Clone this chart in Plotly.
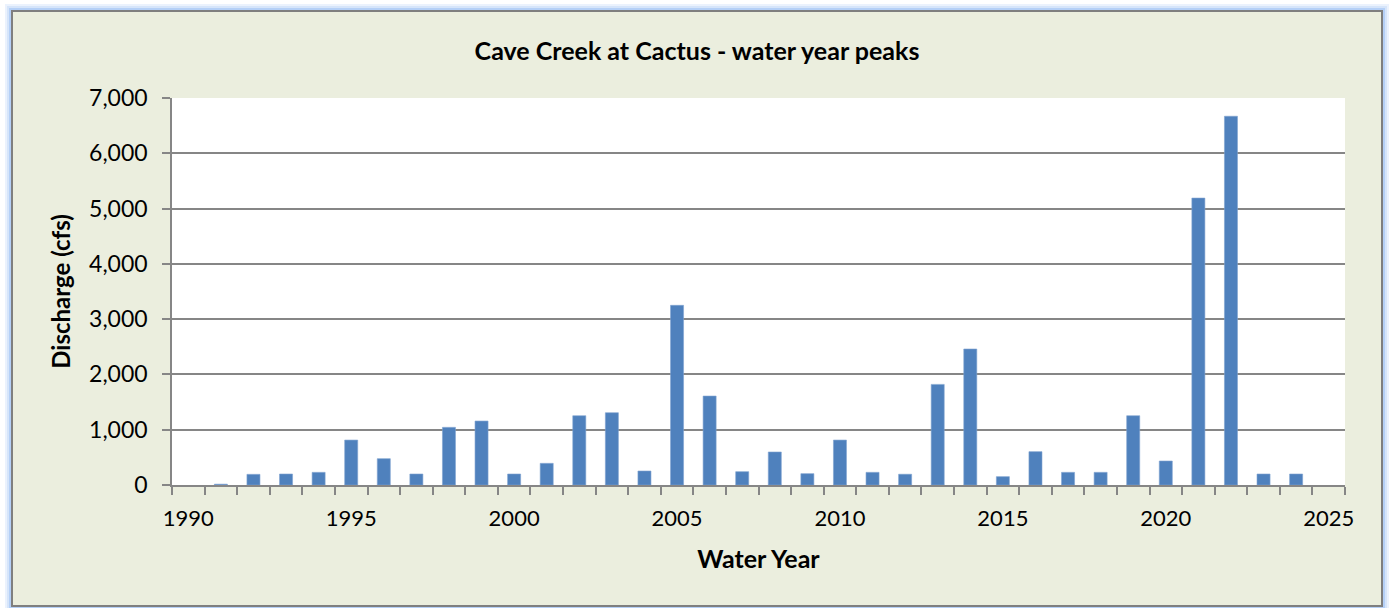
import plotly.graph_objects as go

# ---- data ----
years = list(range(1990, 2026))
peaks = [None, 15, 193, 199, 229, 813, 476, 199, 1043, 1157,
         199, 392, 1253, 1308, 253, 3250, 1609, 241, 597, 205,
         813, 229, 195, 1820, 2460, 151, 603, 229, 229, 1253,
         434, 5190, 6670, 199, 199, None]
label_years = [1990, 1995, 2000, 2005, 2010, 2015, 2020, 2025]
y_ticks = [0, 1000, 2000, 3000, 4000, 5000, 6000, 7000]
title_text = "Cave Creek at Cactus - water year peaks"
x_title = "Water Year"
y_title = "Discharge (cfs)"

W, H = 1389, 608
L, R, T, B = 172, 1345, 98, 485  # plot area in px

FONT = "Lato"

fig = go.Figure()
fig.add_trace(go.Bar(
    x=years, y=peaks, width=0.4,
    marker=dict(color="#4F81BD", line=dict(color="#7FA3D0", width=0.6)),
    hoverinfo="x+y",
))

def px2x(px):
    return (px - L) / (R - L)

def py2y(py):
    return (B - py) / (B - T)

shapes = []
# blue glow around frame
for d, a in [(6, 0.15), (4, 0.3), (2, 0.55)]:
    shapes.append(dict(type="rect", xref="paper", yref="paper", layer="below",
                       x0=px2x(12 - d), x1=px2x(1382 + d), y0=py2y(606 + d), y1=py2y(11 - d),
                       line=dict(color=f"rgba(120,170,240,{a})", width=2), fillcolor="rgba(0,0,0,0)"))
# frame
shapes.append(dict(type="rect", xref="paper", yref="paper", layer="below",
                   x0=px2x(12), x1=px2x(1382), y0=py2y(606), y1=py2y(11),
                   line=dict(color="#7F7F7F", width=2), fillcolor="#EBEEDE"))
# plot area white
shapes.append(dict(type="rect", xref="paper", yref="paper", layer="below",
                   x0=0, x1=1, y0=0, y1=1,
                   line=dict(width=0), fillcolor="#FFFFFF"))

fig.update_layout(
    width=W, height=H,
    margin=dict(l=L, r=W - R, t=T, b=H - B),
    paper_bgcolor="#FFFFFF",
    plot_bgcolor="rgba(0,0,0,0)",
    showlegend=False,
    shapes=shapes,
    font=dict(family=FONT, color="#000000"),
    title=dict(text=f"<b>{title_text}</b>", x=697 / W, xanchor="center",
               y=1 - 51 / H, yanchor="middle", font=dict(size=25, family=FONT, color="#000000")),
    xaxis=dict(
        range=[1989.5, 2025.5],
        tickmode="array", tickvals=label_years, ticktext=[str(v) for v in label_years],
        ticks="", showgrid=False, zeroline=False,
        showline=True, linecolor="#868686", linewidth=1.5,
        tickfont=dict(size=22, family=FONT, color="#000000"),
        ticklabelstandoff=13,
        minor=dict(tickmode="array", tickvals=[y - 0.5 for y in years] + [years[-1] + 0.5],
                   ticks="outside", ticklen=8, tickcolor="#868686", tickwidth=1.5, showgrid=False),
        title=dict(text=f"<b>{x_title}</b>", font=dict(size=25, family=FONT, color="#000000"), standoff=20),
    ),
    yaxis=dict(
        range=[0, 7000],
        tickmode="array", tickvals=y_ticks, tickformat=",",
        ticks="outside", ticklen=8, tickcolor="#868686", tickwidth=1.5,
        showgrid=True, gridcolor="#868686", gridwidth=1.5,
        zeroline=False, showline=True, linecolor="#868686", linewidth=1.5,
        tickfont=dict(size=23, family=FONT, color="#000000"),
        ticklabelstandoff=10,
        title=dict(text=f"<b>{y_title}</b>", font=dict(size=24, family=FONT, color="#000000"), standoff=12),
    ),
)

fig.write_html("out.html", config={"displayModeBar": False},
               post_script="document.body.style.margin='0';document.body.style.overflow='hidden';")
